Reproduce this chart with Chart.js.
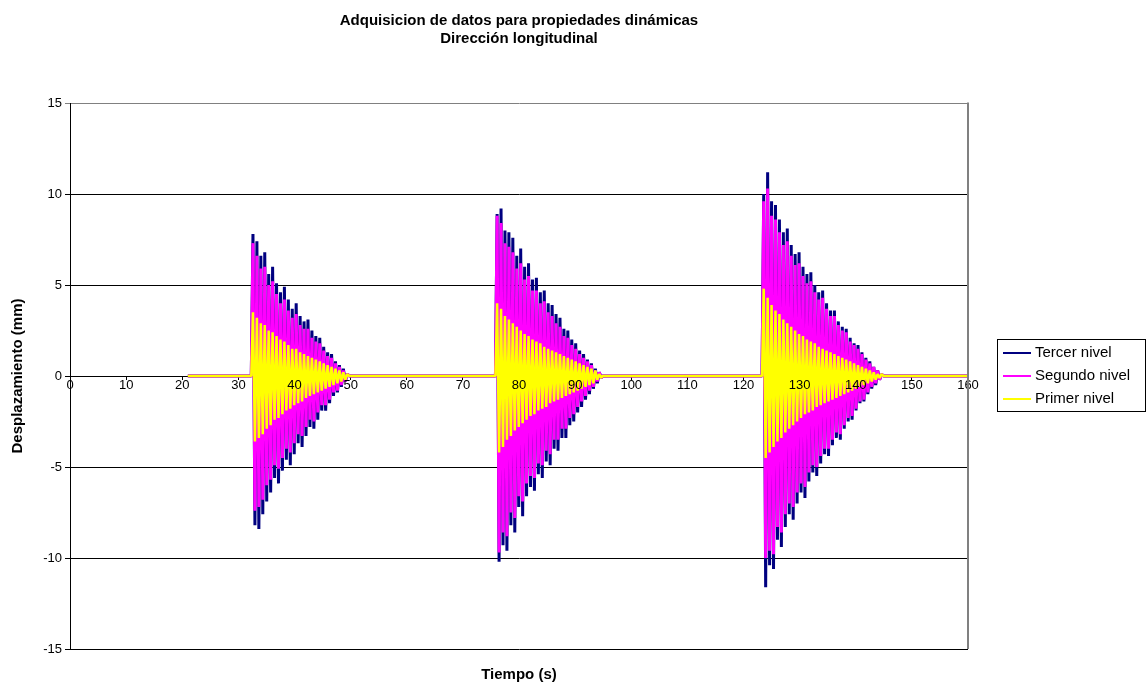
<!DOCTYPE html>
<html>
<head>
<meta charset="utf-8">
<title>Adquisicion de datos</title>
<script src="https://cdn.jsdelivr.net/npm/chart.js@4.4.1/dist/chart.umd.min.js"></script>
<style>
  html, body { margin: 0; padding: 0; background: #fff; }
  #wrap { width: 1146px; height: 684px; }
</style>
</head>
<body>
<div id="wrap"><canvas id="myChart" width="1146" height="684"></canvas></div>
<script>
'use strict';

let seriesNames = ['Tercer nivel', 'Segundo nivel', 'Primer nivel'];
let seriesColors = ['#000080', '#FF00FF', '#FFFF00'];
let yTicks = [-15, -10, -5, 0, 5, 10, 15];

// sensor at rest (mm) between the three excitations
let restTimes = [21, 32.3, 49.8, 75.8, 94.9, 123.3, 145.2, 160];

// each excitation starts at burstStart and is sampled every sampleStep seconds
let burstStart = [32.6, 76.1, 123.6];
let sampleStep = 0.35;

let tercerNivel = [
  [7.8, -8.2, 7.4, -8.4, 6.6, -7.6, 6.8, -6.9, 5.6, -6.4,
   6.0, -5.6, 5.1, -5.9, 4.6, -5.2, 4.9, -4.6, 4.2, -4.9,
   3.7, -4.3, 4.0, -3.7, 3.3, -3.9, 3.0, -3.3, 3.1, -2.8,
   2.5, -2.9, 2.2, -2.4, 2.1, -1.9, 1.6, -1.9, 1.3, -1.5,
   1.2, -1.1, 0.8, -0.9, 0.6, -0.6, 0.4, -0.3, 0.1],
  [8.9, -10.2, 9.2, -9.3, 8.0, -9.6, 7.9, -8.2, 7.6, -8.6,
   6.6, -7.2, 7.0, -7.7, 6.0, -6.6, 6.2, -6.1, 5.3, -6.3,
   5.4, -5.4, 4.6, -5.6, 4.7, -4.7, 4.0, -4.9, 3.9, -4.0,
   3.4, -4.1, 3.2, -3.4, 2.6, -3.4, 2.5, -2.7, 2.0, -2.5,
   1.8, -2.0, 1.4, -1.7, 1.2, -1.3, 0.9, -1.0, 0.7, -0.7,
   0.4, -0.4, 0.2, -0.1],
  [10.0, -11.6, 11.2, -10.4, 9.6, -10.6, 9.4, -9.0, 8.6, -9.4,
   7.9, -8.3, 8.1, -7.6, 7.2, -7.9, 6.7, -7.0, 6.8, -6.4,
   6.0, -6.7, 5.6, -5.8, 5.7, -5.3, 5.0, -5.5, 4.6, -4.8,
   4.7, -4.3, 4.0, -4.4, 3.6, -3.8, 3.6, -3.4, 3.0, -3.5,
   2.7, -2.9, 2.6, -2.5, 2.1, -2.4, 1.8, -1.9, 1.7, -1.5,
   1.3, -1.4, 1.0, -1.0, 0.8, -0.7, 0.5, -0.5, 0.3, -0.2,
   0.1, 0.0]
];

let segundoNivel = [
  [7.3, -7.4, 6.6, -7.2, 5.9, -6.8, 6.0, -6.0, 5.0, -5.7,
   5.2, -4.9, 4.5, -5.1, 4.0, -4.5, 4.2, -4.0, 3.6, -4.2,
   3.2, -3.7, 3.4, -3.2, 2.8, -3.3, 2.6, -2.8, 2.6, -2.4,
   2.1, -2.5, 1.9, -2.0, 1.8, -1.6, 1.4, -1.6, 1.1, -1.3,
   1.0, -0.9, 0.7, -0.8, 0.5, -0.5, 0.3, -0.3, 0.1],
  [8.8, -9.7, 8.4, -8.6, 7.3, -8.8, 7.1, -7.5, 6.8, -7.8,
   5.9, -6.6, 6.2, -6.9, 5.3, -5.9, 5.5, -5.5, 4.7, -5.6,
   4.7, -4.8, 4.0, -4.9, 4.1, -4.1, 3.5, -4.3, 3.3, -3.5,
   2.9, -3.5, 2.7, -2.9, 2.2, -2.9, 2.1, -2.3, 1.7, -2.1,
   1.5, -1.7, 1.2, -1.4, 1.0, -1.1, 0.8, -0.8, 0.6, -0.6,
   0.3, -0.3, 0.2, -0.1],
  [9.6, -10.0, 10.3, -9.6, 8.8, -9.8, 8.6, -8.3, 7.9, -8.6,
   7.2, -7.6, 7.4, -7.0, 6.6, -7.2, 6.1, -6.4, 6.2, -5.9,
   5.5, -6.1, 5.1, -5.3, 5.2, -4.9, 4.6, -5.0, 4.2, -4.4,
   4.3, -4.0, 3.7, -4.0, 3.3, -3.5, 3.3, -3.1, 2.8, -3.2,
   2.5, -2.7, 2.4, -2.3, 1.9, -2.2, 1.7, -1.8, 1.5, -1.4,
   1.2, -1.3, 0.9, -0.9, 0.7, -0.6, 0.5, -0.4, 0.3, -0.2,
   0.1, 0.0]
];

let primerNivel = [
  [3.5, -3.6, 3.2, -3.4, 2.9, -3.2, 2.8, -2.9, 2.5, -2.7,
   2.4, -2.4, 2.2, -2.3, 2.0, -2.1, 1.9, -1.9, 1.7, -1.8,
   1.5, -1.6, 1.5, -1.5, 1.3, -1.4, 1.2, -1.2, 1.1, -1.1,
   1.0, -1.0, 0.9, -0.9, 0.8, -0.8, 0.7, -0.7, 0.6, -0.6,
   0.5, -0.5, 0.4, -0.4, 0.3, -0.3, 0.2, -0.2, 0.1],
  [4.0, -4.2, 3.7, -3.9, 3.3, -3.5, 3.1, -3.3, 2.9, -3.0,
   2.7, -2.8, 2.5, -2.6, 2.3, -2.4, 2.2, -2.2, 2.0, -2.1,
   1.9, -1.9, 1.8, -1.8, 1.6, -1.7, 1.5, -1.5, 1.4, -1.4,
   1.3, -1.3, 1.2, -1.2, 1.1, -1.1, 1.0, -1.0, 0.9, -0.9,
   0.8, -0.8, 0.7, -0.7, 0.6, -0.6, 0.5, -0.5, 0.4, -0.4,
   0.3, -0.2, 0.1, -0.1],
  [4.8, -4.5, 4.3, -4.2, 3.9, -3.9, 3.6, -3.6, 3.4, -3.4,
   3.1, -3.1, 2.9, -2.9, 2.7, -2.7, 2.5, -2.5, 2.3, -2.3,
   2.2, -2.1, 2.0, -2.0, 1.9, -1.9, 1.8, -1.7, 1.6, -1.6,
   1.5, -1.5, 1.4, -1.4, 1.3, -1.3, 1.2, -1.2, 1.1, -1.1,
   1.0, -1.0, 0.9, -0.9, 0.8, -0.8, 0.7, -0.7, 0.6, -0.6,
   0.5, -0.5, 0.4, -0.4, 0.3, -0.3, 0.2, -0.2, 0.1, -0.1,
   0.1, 0.0]
];

function buildSeries(bursts) {
  let pts = restTimes.map(t => ({ x: t, y: 0 }));
  bursts.forEach((vals, b) => {
    vals.forEach((v, i) => {
      pts.push({ x: +(burstStart[b] + i * sampleStep).toFixed(2), y: v });
    });
  });
  return pts.sort((a, b) => a.x - b.x);
}

let allSeries = [tercerNivel, segundoNivel, primerNivel];
let lineWidths = [3, 3, 2.5];

// right border of the plot and the framed legend
let framePlugin = {
  id: 'frame',
  afterDraw(chart) {
    let ctx = chart.ctx;
    let a = chart.chartArea;
    ctx.save();
    ctx.strokeStyle = '#808080';
    ctx.lineWidth = 2;
    ctx.beginPath();
    ctx.moveTo(a.right, a.top - 0.5);
    ctx.lineTo(a.right, a.bottom);
    ctx.stroke();

    let lx = 997, ly = 339, lw = 148, lh = 72;
    ctx.strokeStyle = '#000';
    ctx.lineWidth = 1;
    ctx.strokeRect(lx + 0.5, ly + 0.5, lw, lh);
    ctx.font = '15px "Liberation Sans", Arial, sans-serif';
    ctx.textBaseline = 'middle';
    ctx.fillStyle = '#000';
    seriesNames.forEach((name, i) => {
      let y = ly + 14 + i * 23;
      ctx.strokeStyle = seriesColors[i];
      ctx.lineWidth = 2;
      ctx.beginPath();
      ctx.moveTo(lx + 6, y);
      ctx.lineTo(lx + 34, y);
      ctx.stroke();
      ctx.fillText(name, lx + 38, y);
    });
    ctx.restore();
  }
};

Chart.defaults.font.family = '"Liberation Sans", Arial, sans-serif';
Chart.defaults.color = '#000';

let ctx = document.getElementById('myChart').getContext('2d');
let myChart = new Chart(ctx, {
  type: 'line',
  data: {
    datasets: seriesNames.map((name, i) => ({
      label: name,
      data: buildSeries(allSeries[i]),
      borderColor: seriesColors[i],
      backgroundColor: seriesColors[i],
      borderWidth: lineWidths[i],
      borderJoinStyle: 'bevel',
      pointRadius: 0,
      tension: 0,
      fill: false,
      // first series drawn first so the smaller ones sit on top
      order: seriesNames.length - i
    }))
  },
  options: {
    responsive: false,
    animation: false,
    parsing: false,
    layout: { padding: { left: 0, right: 178, top: 0, bottom: 0 } },
    plugins: {
      legend: { display: false },
      tooltip: { enabled: false },
      title: {
        display: true,
        text: ['Adquisicion de datos para propiedades dinámicas', 'Dirección longitudinal'],
        font: { size: 15, weight: 'bold' },
        color: '#000',
        fullSize: false,
        padding: { top: 12, bottom: 55 }
      },
      subtitle: {
        display: true,
        position: 'bottom',
        text: 'Tiempo (s)',
        font: { size: 15, weight: 'bold' },
        color: '#000',
        fullSize: false,
        padding: { top: 17, bottom: 0 }
      }
    },
    scales: {
      x: {
        type: 'linear',
        position: { y: 0 },
        min: 0,
        max: 160,
        ticks: {
          stepSize: 10,
          autoSkip: false,
          maxRotation: 0,
          padding: -1,
          // time labels sit on top of the traces
          z: 1,
          font: { size: 13 },
          color: '#000'
        },
        grid: { drawOnChartArea: false, tickLength: 3, color: '#000' },
        border: { display: true, color: '#000', width: 1 }
      },
      y: {
        min: -15,
        max: 15,
        afterFit(scale) { scale.width = 70; },
        afterBuildTicks(scale) { scale.ticks = yTicks.map(v => ({ value: v })); },
        ticks: { padding: 3, font: { size: 13 }, color: '#000' },
        grid: {
          color: c => (c.tick && c.tick.value === 15 ? '#808080' : '#000'),
          tickLength: 5,
          lineWidth: 1
        },
        border: { display: true, color: '#000', width: 1 },
        title: {
          display: true,
          text: 'Desplazamiento (mm)',
          font: { size: 15, weight: 'bold' },
          color: '#000',
          padding: { top: 9, bottom: 0 }
        }
      }
    }
  },
  plugins: [framePlugin]
});
</script>
</body>
</html>
